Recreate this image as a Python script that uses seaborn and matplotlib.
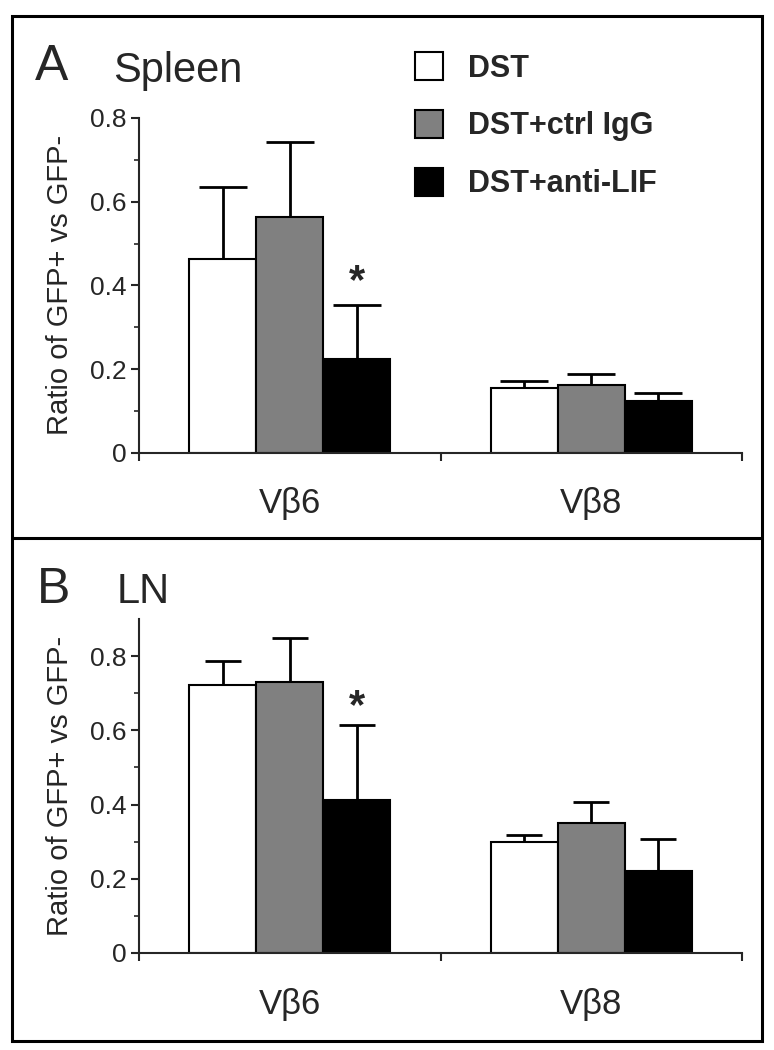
import numpy as np
import pandas as pd
import matplotlib
matplotlib.use("Agg")
import matplotlib.pyplot as plt
import seaborn as sns
from matplotlib.patches import Patch, Rectangle
from matplotlib.lines import Line2D
from matplotlib.ticker import FixedLocator, FuncFormatter

# data
groups = ["DST", "DST+ctrl IgG", "DST+anti-LIF"]
cats = ["V\u03b26", "V\u03b28"]
colors = ["white", "#808080", "black"]

spleen_dst = [0.463, 0.155]
spleen_ctrl = [0.564, 0.161]
spleen_lif = [0.225, 0.124]
spleen_dst_err = [0.173, 0.016]
spleen_ctrl_err = [0.178, 0.026]
spleen_lif_err = [0.127, 0.019]

ln_dst = [0.722, 0.300]
ln_ctrl = [0.731, 0.350]
ln_lif = [0.412, 0.221]
ln_dst_err = [0.064, 0.017]
ln_ctrl_err = [0.118, 0.056]
ln_lif_err = [0.202, 0.087]

star_cat = "V\u03b26"
star_group = "DST+anti-LIF"

sns.set_style("ticks")
plt.rcParams["font.family"] = ["Liberation Sans", "DejaVu Sans"]


def make_frame(vals, errs):
    rows = []
    for g, v, e in zip(groups, vals, errs):
        for c, vv, ee in zip(cats, v, e):
            rows.append({"cat": c, "group": g, "value": vv, "err": ee})
    return pd.DataFrame(rows)


def draw_panel(ax, df, ymax, minor, capsize, star_off):
    sns.barplot(data=df, x="cat", y="value", hue="group", order=cats,
                hue_order=groups, palette=colors, edgecolor="black",
                linewidth=1.5, width=0.667, gap=0, errorbar=None,
                legend=False, ax=ax)
    bar_conts = list(ax.containers)
    # upper error bars only, from bar top
    for gi, cont in enumerate(bar_conts):
        sub = df[df["group"] == groups[gi]].set_index("cat")
        for ci, bar in enumerate(cont):
            x = bar.get_x() + bar.get_width() / 2
            y = bar.get_height()
            e = sub.loc[cats[ci], "err"]
            eb = ax.errorbar([x], [y], yerr=[[0], [e]], fmt="none",
                             ecolor="black", elinewidth=2, capsize=capsize,
                             capthick=2, zorder=1)
            eb[1][0].set_visible(False)
            if cats[ci] == star_cat and groups[gi] == star_group:
                ax.annotate("*", xy=(x, y + e), xytext=(0, star_off),
                            textcoords="offset points", ha="center",
                            va="center", fontsize=30, fontweight="bold")
    ax.set_xlim(-0.5, 1.5)
    ax.set_ylim(0, ymax)
    ax.set_yticks(np.arange(0, 0.81, 0.2))
    ax.yaxis.set_major_formatter(FuncFormatter(
        lambda v, _: "0" if abs(v) < 1e-9 else "{:.1f}".format(v)))
    ax.yaxis.set_minor_locator(FixedLocator(minor))
    ax.xaxis.set_minor_locator(FixedLocator([-0.5, 0.5, 1.5]))
    ax.tick_params(axis="y", which="major", direction="out", length=6,
                   width=1.5, labelsize=19, pad=3)
    ax.tick_params(axis="y", which="minor", direction="out", length=3.5,
                   width=1.2)
    ax.tick_params(axis="x", which="major", length=0, labelsize=25, pad=25)
    ax.tick_params(axis="x", which="minor", direction="out", length=6,
                   width=1.5)
    ax.set_xlabel("")
    ax.set_ylabel("Ratio of GFP+ vs GFP-", fontsize=21)
    ax.yaxis.set_label_coords(-0.108, 0.5)
    sns.despine(ax=ax)
    for s in ("left", "bottom"):
        ax.spines[s].set_linewidth(1.5)


fig = plt.figure(figsize=(7.74, 10.5), dpi=100)
W, H = 774.0, 1050.0

axA = fig.add_axes([139 / W, 1 - 452.7 / H, 603 / W, 334.7 / H])
axB = fig.add_axes([139 / W, 1 - 953 / H, 603 / W, 334 / H])

draw_panel(axA, make_frame([spleen_dst, spleen_ctrl, spleen_lif],
                           [spleen_dst_err, spleen_ctrl_err, spleen_lif_err]),
           0.8, [0.1, 0.3, 0.5, 0.7], 17, 17)
draw_panel(axB, make_frame([ln_dst, ln_ctrl, ln_lif],
                           [ln_dst_err, ln_ctrl_err, ln_lif_err]),
           0.9, [0.1, 0.3, 0.5, 0.7], 13, 13)

# panel frames
fig.add_artist(Rectangle((12 / W, 1 - 1041 / H), 750 / W, 1025 / H,
                         fill=False, lw=2.2, edgecolor="black",
                         transform=fig.transFigure))
fig.add_artist(Line2D([12 / W, 762 / W], [1 - 538 / H] * 2, lw=2.2,
                      color="black", transform=fig.transFigure))

# panel letters and titles
fig.text(35 / W, 1 - 80 / H, "A", fontsize=36, va="baseline")
fig.text(113 / W, 1 - 82 / H, "Spleen", fontsize=30, va="baseline")
fig.text(37 / W, 1 - 603 / H, "B", fontsize=36, va="baseline")
fig.text(117 / W, 1 - 603 / H, "LN", fontsize=30, va="baseline")

handles = [Patch(facecolor=c, edgecolor="black", linewidth=1.5, label=g)
           for g, c in zip(groups, colors)]
fig.legend(handles=handles, loc="upper left",
           bbox_to_anchor=(415 / W, 1 - 52 / H), frameon=False,
           borderpad=0, borderaxespad=0, handlelength=0.9,
           handleheight=1.05, handletextpad=0.85, labelspacing=0.86,
           prop={"weight": "bold", "size": 22})

fig.savefig("out.png", dpi=100)
